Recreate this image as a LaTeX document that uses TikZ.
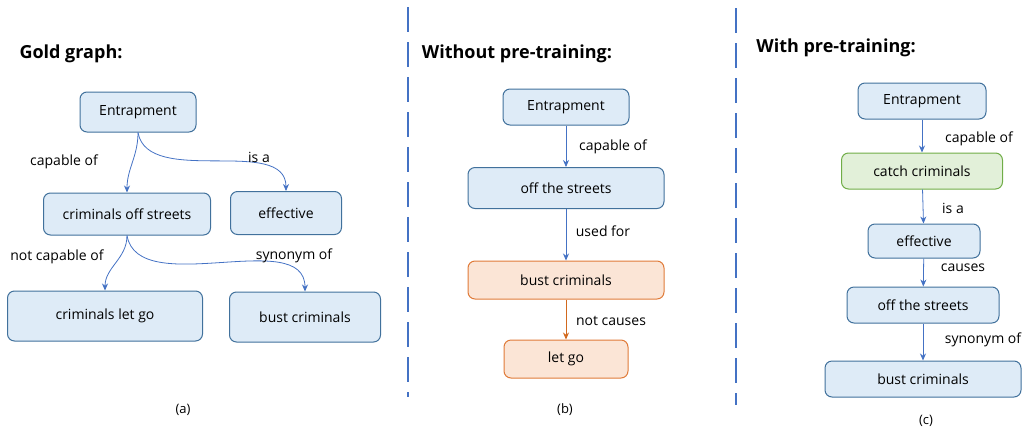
\documentclass[tikz,border=0pt]{standalone}
\usepackage{fontspec}
\setmainfont{Open Sans}
\usetikzlibrary{arrows.meta}
\definecolor{boxblue}{HTML}{41719C}
\definecolor{fillblue}{HTML}{DEEBF7}
\definecolor{arrblue}{HTML}{4472C4}
\definecolor{boxorange}{HTML}{E07B39}
\definecolor{fillorange}{HTML}{FBE5D6}
\definecolor{arrorange}{HTML}{D2691E}
\definecolor{boxgreen}{HTML}{70AD47}
\definecolor{fillgreen}{HTML}{E2F0D9}

\begin{document}
\begin{tikzpicture}[x=1pt,y=-1pt,
        box/.style={draw=boxblue,fill=fillblue,rounded corners=7pt,line width=1pt,inner sep=0pt,font=\fontsize{14}{16}\selectfont},
        orangebox/.style={box,draw=boxorange,fill=fillorange},
        greenbox/.style={box,draw=boxgreen,fill=fillgreen},
        rel/.style={font=\fontsize{14}{16}\selectfont},
        link/.style={draw=arrblue,line width=0.8pt,-{Stealth[length=7pt,width=6pt]}},
        heading/.style={font=\fontsize{18}{21}\selectfont\bfseries},
        caption/.style={font=\fontsize{13}{15}\selectfont},
        divider/.style={draw=arrblue,line width=2.2pt,dash pattern=on 25pt off 10pt}]
        \useasboundingbox (0,0) rectangle (1029,432);

        % dividers
        \draw[divider] (408,7) -- (408,397);
        \draw[divider] (736,8) -- (736,405);

        % (a) gold graph
        \node[heading] (ta) at (71,54) {Gold graph:};
        \node[box,minimum width=116pt,minimum height=40pt] (a1) at (138,112) {Entrapment};
        \node[box,minimum width=167pt,minimum height=42pt] (a2) at (127,214) {criminals off streets};
        \node[box,minimum width=111pt,minimum height=43pt] (a3) at (286,213) {effective};
        \node[box,minimum width=195pt,minimum height=50pt] (a4) at (105,316) {criminals let go};
        \node[box,minimum width=151pt,minimum height=50pt] (a5) at (305,317) {bust criminals};
        \draw[link] (a1.south) to[out=-90,in=90] (a2.north);
        \draw[link] (a1.south) to[out=-80,in=90,looseness=0.9] (a3.north);
        \draw[link] (a2.south) to[out=-90,in=90] (a4.north);
        \draw[link] (a2.south) to[out=-80,in=90,looseness=0.9] (a5.north);
        \node[rel] (la1) at (64,162) {capable of};
        \node[rel] (la2) at (259,157) {is a};
        \node[rel] (la3) at (57,257) {not capable of};
        \node[rel] (la4) at (294,256) {synonym of};
        \node[caption] (ca) at (183,410) {(a)};

        % (b) without pre-training
        \node[heading] (tb) at (517,54) {Without pre-training:};
        \node[box,minimum width=126pt,minimum height=36pt] (b1) at (566,107) {Entrapment};
        \node[box,minimum width=196pt,minimum height=41pt] (b2) at (566,188) {off the streets};
        \node[orangebox,minimum width=196pt,minimum height=38pt] (b3) at (566,280) {bust criminals};
        \node[orangebox,minimum width=124pt,minimum height=38pt] (b4) at (566,359) {let go};
        \draw[link] (b1) -- (b2);
        \draw[link] (b2) -- (b3);
        \draw[link,draw=arrorange] (b3) -- (b4);
        \node[rel] (lb1) at (613,147) {capable of};
        \node[rel] (lb2) at (603,231) {used for};
        \node[rel] (lb3) at (611,321) {not causes};
        \node[caption] (cb) at (565,410) {(b)};

        % (c) with pre-training
        \node[heading] (tc) at (836,48) {With pre-training:};
        \node[box,minimum width=128pt,minimum height=36pt] (c1) at (922,101) {Entrapment};
        \node[greenbox,minimum width=161pt,minimum height=36pt] (c2) at (922,171) {catch criminals};
        \node[box,minimum width=112pt,minimum height=34pt] (c3) at (924,241) {effective};
        \node[box,minimum width=152pt,minimum height=36pt] (c4) at (923,305) {off the streets};
        \node[box,minimum width=196pt,minimum height=36pt] (c5) at (923,379) {bust criminals};
        \draw[link] (c1) -- (c2);
        \draw[link] (c2) -- (c3);
        \draw[link] (c3) -- (c4);
        \draw[link] (c4) -- (c5);
        \node[rel] (lc1) at (979,139) {capable of};
        \node[rel] (lc2) at (953,208) {is a};
        \node[rel] (lc3) at (963,268) {causes};
        \node[rel] (lc4) at (983,340) {synonym of};
        \node[caption] (cc) at (926,421) {(c)};

    \end{tikzpicture}
\end{document}
